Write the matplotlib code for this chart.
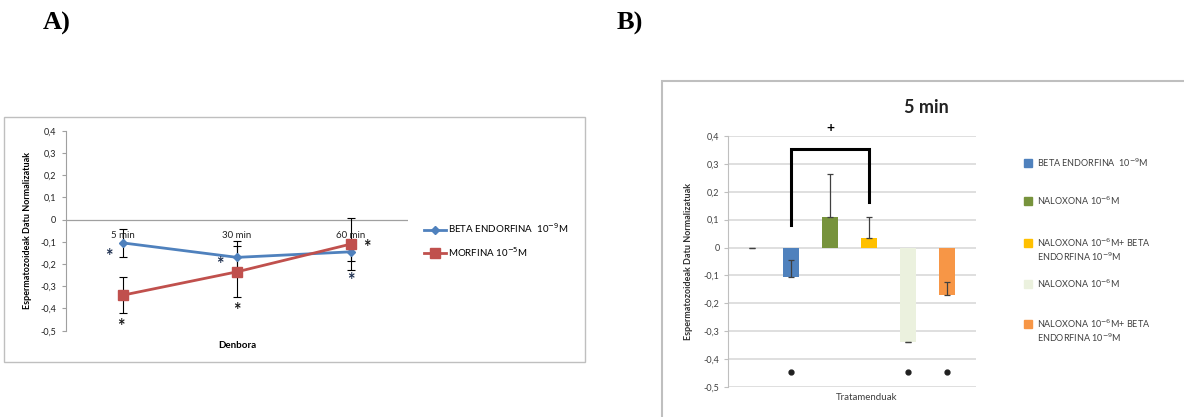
import matplotlib
matplotlib.use("Agg")
import matplotlib.pyplot as plt
from matplotlib.patches import Rectangle
from matplotlib.ticker import FuncFormatter

plt.rcParams['font.family'] = ['Lato', 'DejaVu Sans']

# ---------------- Data: panel A ----------------
times = ["5 min", "30 min", "60 min"]
beta_vals = [-0.105, -0.17, -0.145]
beta_err = [0.062, 0.075, 0.04]
morf_vals = [-0.34, -0.235, -0.11]
morf_err = [0.08, 0.115, 0.115]
beta_label = "BETA ENDORFINA  10$^{-9}$M"
morf_label = "MORFINA 10$^{-5}$M"
# asterisks (category offset, y)
star_beta = [(-0.12, -0.165), (-0.15, -0.2), (0.0, -0.275)]
star_morf = [(-0.02, -0.48), (0.0, -0.41), (0.14, -0.127)]

# ---------------- Data: panel B ----------------
treat_vals = [0.0, -0.105, 0.11, 0.035, -0.34, -0.17]
treat_err = [0.0, 0.06, 0.155, 0.075, 0.0, 0.045]
treat_colors = ["#A6A6A6", "#4F81BD", "#77933C", "#FFC000", "#EBF1DE", "#F79646"]
treat_labels = [None,
                ["BETA ENDORFINA  10$^{-9}$M"],
                ["NALOXONA 10$^{-6}$M"],
                ["NALOXONA 10$^{-6}$M+ BETA", "ENDORFINA 10$^{-9}$M"],
                ["NALOXONA 10$^{-6}$M"],
                ["NALOXONA 10$^{-6}$M+ BETA", "ENDORFINA 10$^{-9}$M"]]
star_B = [1, 4, 5]
star_B_y = -0.445
bracket_x = [1, 1, 3, 3]
bracket_y = [0.08, 0.355, 0.355, 0.165]

W, H = 1184, 417
fig = plt.figure(figsize=(W / 100, H / 100), dpi=100)

def fx(px):
    return px / W

def fy(py):
    return 1 - py / H

def comma_fmt():
    return FuncFormatter(lambda v, p: ("%.1f" % v).replace(".", ",") if abs(v) > 1e-9 else "0")

# Panel labels
fig.text(fx(43), fy(23), "A)", family="Liberation Serif", weight="bold", fontsize=19, va="center")
fig.text(fx(617), fy(23), "B)", family="Liberation Serif", weight="bold", fontsize=19, va="center")

# Frames
fig.patches.append(Rectangle((fx(4), fy(362)), fx(581), (362 - 117) / H, transform=fig.transFigure,
                             fill=False, edgecolor="#BFBFBF", linewidth=1))
fig.patches.append(Rectangle((fx(662), fy(420)), fx(540), (420 - 81) / H, transform=fig.transFigure,
                             fill=False, edgecolor="#BFBFBF", linewidth=1.5))

# ---------------- Panel A ----------------
axA = fig.add_axes([fx(66), fy(330.7), fx(342), (330.7 - 130.7) / H])
xs = [i + 0.5 for i in range(len(times))]
axA.errorbar(xs, beta_vals, yerr=beta_err, fmt="none", ecolor="black", elinewidth=0.8,
             capsize=3, capthick=0.8, zorder=2)
axA.errorbar(xs, morf_vals, yerr=morf_err, fmt="none", ecolor="black", elinewidth=0.8,
             capsize=3, capthick=0.8, zorder=2)
axA.plot(xs, beta_vals, color="#4F81BD", marker="D", markersize=4.5, linewidth=2,
         label=beta_label, zorder=3)
axA.plot(xs, morf_vals, color="#C0504D", marker="s", markersize=7, linewidth=2,
         label=morf_label, zorder=3)
for x, t in zip(xs, times):
    axA.text(x, -0.073, t, ha="center", va="center", fontsize=7, color="#222222")
for i, (dx, y) in enumerate(star_beta):
    axA.text(xs[i] + dx, y, "*", ha="center", va="center", fontsize=13, weight="bold", color="#1F3050")
for i, (dx, y) in enumerate(star_morf):
    axA.text(xs[i] + dx, y, "*", ha="center", va="center", fontsize=13, weight="bold", color="#1A1A1A")
axA.axhline(0, color="#A0A0A0", linewidth=0.9, zorder=1)
axA.set_xlim(0, 3)
axA.set_ylim(-0.5, 0.4)
axA.set_yticks([0.4, 0.3, 0.2, 0.1, 0, -0.1, -0.2, -0.3, -0.4, -0.5])
axA.yaxis.set_major_formatter(comma_fmt())
axA.set_xticks([])
for s in ["top", "right", "bottom"]:
    axA.spines[s].set_visible(False)
axA.spines["left"].set_color("#A0A0A0")
axA.tick_params(axis="y", labelsize=6.5, length=3, color="#A0A0A0", pad=4, labelcolor="#222222")
axA.set_xlabel("Denbora", fontsize=7, weight="bold", labelpad=2)
axA.xaxis.set_label_coords(0.5, -0.05)
axA.set_ylabel("Espermatozoideak Datu Normalizatuak", fontsize=6.5, weight="bold", labelpad=6)
axA.legend(loc="center left", bbox_to_anchor=(fx(424), fy(240)), bbox_transform=fig.transFigure,
           frameon=False, fontsize=7, handlelength=2.3, labelspacing=1.0, handletextpad=0.2,
           borderaxespad=0, borderpad=0)

# ---------------- Panel B ----------------
axB = fig.add_axes([fx(728), fy(387), fx(248), (387 - 136) / H])
pos = list(range(len(treat_vals)))
lower = [0.0] * len(treat_err)
axB.bar(pos, treat_vals, width=0.42, color=treat_colors, zorder=2)
axB.errorbar(pos, treat_vals, yerr=[lower, treat_err], fmt="none", ecolor="#404040",
             elinewidth=0.9, capsize=2.5, capthick=0.9, zorder=3)
axB.plot(bracket_x, bracket_y, color="black", linewidth=2.2, solid_joinstyle="miter", zorder=4)
axB.text((bracket_x[0] + bracket_x[2]) / 2, 0.43, "+", ha="center", va="center", fontsize=10,
         weight="bold")
for i in star_B:
    axB.plot(i, star_B_y, marker="o", markersize=3.5, color="#202020", linestyle="none", zorder=4)
axB.set_xlim(-0.62, 5.74)
axB.set_ylim(-0.5, 0.4)
axB.set_yticks([0.4, 0.3, 0.2, 0.1, 0, -0.1, -0.2, -0.3, -0.4, -0.5])
axB.yaxis.set_major_formatter(comma_fmt())
axB.set_xticks([])
axB.grid(axis="y", color="#D9D9D9", linewidth=1.2, zorder=0)
axB.set_axisbelow(True)
for s in ["top", "right", "bottom"]:
    axB.spines[s].set_visible(False)
axB.spines["left"].set_color("#BFBFBF")
axB.tick_params(axis="y", labelsize=6.5, length=3, color="#BFBFBF", pad=3, labelcolor="#404040")
axB.set_xlabel("Tratamenduak", fontsize=7, color="#404040")
axB.xaxis.set_label_coords(0.56, -0.025)
axB.set_ylabel("Espermatozoideak Datu Normalizatuak", fontsize=6.5, weight="bold", labelpad=8,
               color="#303030")
axB.set_title("5 min", fontsize=13, weight="bold", x=0.80, y=1.06, color="#222222")

# Legend B (manual)
leg_rows = [163, 201, 243, 284, 324]
for lines, col, yrow in zip(treat_labels[1:], treat_colors[1:], leg_rows):
    fig.patches.append(Rectangle((fx(1024), fy(yrow + 4)), fx(8), 8 / H, transform=fig.transFigure,
                                 color=col))
    for k, ln in enumerate(lines):
        fig.text(fx(1037), fy(yrow + 14 * k), ln, fontsize=6.5, va="center", color="#404040")

fig.savefig("out.png", dpi=100)
